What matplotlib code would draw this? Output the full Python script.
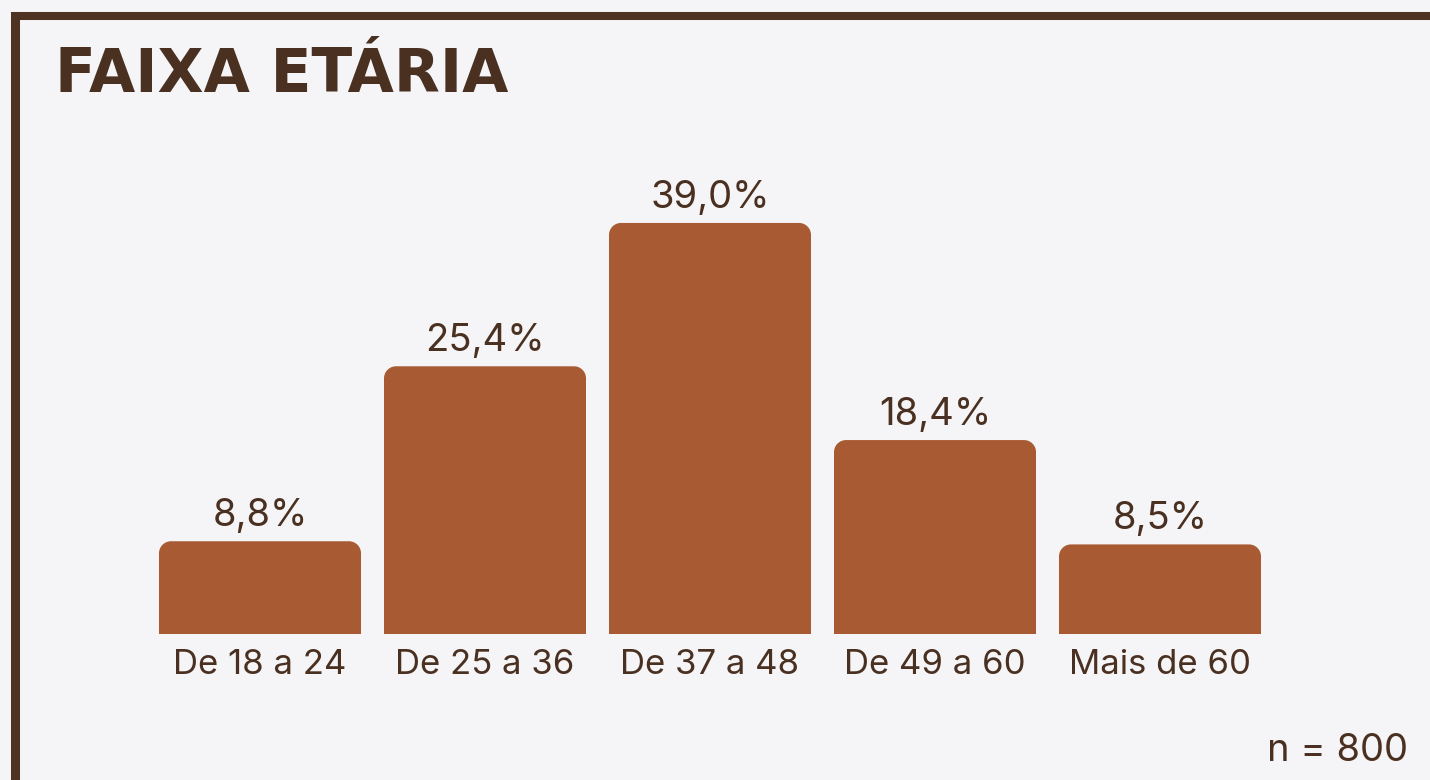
import matplotlib

matplotlib.use("Agg")
import matplotlib.pyplot as plt
from matplotlib.path import Path
from matplotlib.patches import PathPatch

CATEGORIES = ["De 18 a 24", "De 25 a 36", "De 37 a 48", "De 49 a 60", "Mais de 60"]
VALUES = [8.8, 25.4, 39.0, 18.4, 8.5]
LABELS = ["8,8%", "25,4%", "39,0%", "18,4%", "8,5%"]
TITLE = "FAIXA ETÁRIA"
NOTE = "n = 800"

BG = "#f5f5f8"
BAR = "#a85a32"
TXT = "#4a3020"
W, H = 1430, 780


def rounded_bar(x0, x1, h, rx, ry):
    k = 0.5523
    verts = [
        (x0, 0), (x0, h - ry),
        (x0, h - ry + k * ry), (x0 + rx - k * rx, h), (x0 + rx, h),
        (x1 - rx, h),
        (x1 - rx + k * rx, h), (x1, h - ry + k * ry), (x1, h - ry),
        (x1, 0), (x0, 0),
    ]
    codes = [Path.MOVETO, Path.LINETO,
             Path.CURVE4, Path.CURVE4, Path.CURVE4,
             Path.LINETO,
             Path.CURVE4, Path.CURVE4, Path.CURVE4,
             Path.LINETO, Path.CLOSEPOLY]
    return Path(verts, codes)


def main():
    fig = plt.figure(figsize=(W / 100, H / 100), dpi=100, facecolor=BG)
    left, right = 147.5, 1272.5
    base, top = 634, 634 - 45 * 10.54
    ax = fig.add_axes([left / W, (H - base) / H, (right - left) / W, (base - top) / H])
    ax.set_facecolor(BG)
    ax.set_xlim(-0.5, len(VALUES) - 0.5)
    ax.set_ylim(0, 45)
    ax.axis("off")

    bw = 202 / 225
    rx = 12 / 225
    ry = 12 / 10.54
    for i, v in enumerate(VALUES):
        p = rounded_bar(i - bw / 2, i + bw / 2, v, rx, ry)
        ax.add_patch(PathPatch(p, facecolor=BAR, edgecolor="none"))
        ax.annotate(LABELS[i], (i, v), xytext=(0, 5), textcoords="offset points",
                    ha="center", va="bottom", fontsize=27.5, color=TXT, family="Inter")
        ax.annotate(CATEGORIES[i], (i, 0), xytext=(0, -11), textcoords="offset points",
                    ha="center", va="top", fontsize=25, color=TXT, family="Inter")

    fig.text(55 / W, 1 - 75 / H, TITLE, fontsize=43, fontweight="bold", color=TXT,
             ha="left", va="center", family="DejaVu Sans")
    fig.text(1408 / W, 1 - 751 / H, NOTE, fontsize=27.5, color=TXT,
             ha="right", va="center", family="Inter")

    # border on top and left
    fig.add_artist(plt.Line2D([11 / W, 1], [1 - 16 / H, 1 - 16 / H], color="#4e3322",
                              linewidth=5.8, transform=fig.transFigure, solid_capstyle="butt"))
    fig.add_artist(plt.Line2D([15.5 / W, 15.5 / W], [0, 1 - 12 / H], color="#4e3322",
                              linewidth=6.5, transform=fig.transFigure, solid_capstyle="butt"))

    fig.savefig("out.png", dpi=100, facecolor=BG)
    plt.close(fig)


if __name__ == "__main__":
    main()
